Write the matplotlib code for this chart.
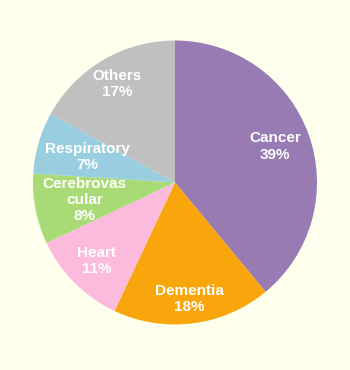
import numpy as np
import matplotlib
matplotlib.use('Agg')
import matplotlib.pyplot as plt

# causes of death, share in percent
causes = ['Cancer', 'Dementia', 'Heart', 'Cerebrovas\ncular', 'Respiratory', 'Others']
shares = [39, 18, 11, 8, 7, 17]
colors = ['#977bb2', '#f9a50c', '#fcbbdc', '#a8db76', '#99cde0', '#c0c0c0']
# radial position of each label (fraction of radius)
label_r = [0.75, 0.825, 0.78, 0.65, 0.64, 0.805]

bg = '#ffffee'
fig = plt.figure(figsize=(3.5, 3.7), dpi=100, facecolor=bg)
ax = fig.add_axes([0.0943, 0.123, 0.8114, 0.7676])
ax.set_facecolor(bg)

wedges, _ = ax.pie(shares, colors=colors, startangle=90, counterclock=False,
                   radius=1.0, wedgeprops=dict(linewidth=0))

for w, name, val, r in zip(wedges, causes, shares, label_r):
    mid = np.deg2rad((w.theta1 + w.theta2) / 2.)
    ax.text(r*np.cos(mid), r*np.sin(mid), '%s\n%d%%' % (name, val),
            ha='center', va='center', color='white', fontsize=11,
            fontweight='bold', family='Liberation Sans', linespacing=1.2)

ax.set_xlim(-1, 1)
ax.set_ylim(-1, 1)
ax.set_aspect('equal')
ax.axis('off')

fig.savefig('out.png', dpi=100, facecolor=bg)
